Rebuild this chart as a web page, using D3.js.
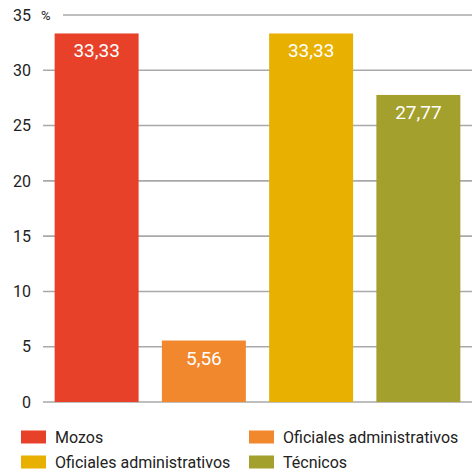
<!DOCTYPE html>
<html>
<head>
<meta charset="utf-8">
<script src="https://cdn.jsdelivr.net/npm/d3@7"></script>
<style>
  body { margin: 0; background: #fff; }
  svg text { font-family: Roboto, "DejaVu Sans", sans-serif; }
</style>
</head>
<body>
<svg id="chart" width="472" height="475"></svg>
<script>
// Data
const categories = ["Mozos", "Oficiales administrativos", "Oficiales administrativos ", "Técnicos"];
const legendLabels = ["Mozos", "Oficiales administrativos", "Oficiales administrativos", "Técnicos"];
const values = [33.33, 5.56, 33.33, 27.77];
const valueLabels = ["33,33", "5,56", "33,33", "27,77"];
const colors = ["#e8412a", "#f2882e", "#e8b000", "#a3a02e"];
const yTicks = [0, 5, 10, 15, 20, 25, 30, 35];

const svg = d3.select("#chart");

// scales
const x = d3.scaleBand()
  .domain(categories)
  .range([43, 472])
  .paddingInner(0.217)
  .paddingOuter(0.1085);

const y = d3.scaleLinear().domain([0, 35]).range([402, 15]);

// grid lines (the top one leaves room for the % sign)
svg.append("g")
  .selectAll("line")
  .data(yTicks)
  .enter()
  .append("line")
  .attr("x1", d => d === 35 ? 63 : 43)
  .attr("x2", 472)
  .attr("y1", d => y(d))
  .attr("y2", d => y(d))
  .attr("stroke", "#a9a9a9")
  .attr("stroke-width", 1.6);

// y tick labels
svg.append("g")
  .selectAll("text")
  .data(yTicks)
  .enter()
  .append("text")
  .attr("x", 31)
  .attr("y", d => y(d))
  .attr("dy", "0.36em")
  .attr("text-anchor", "end")
  .attr("font-size", 16)
  .attr("fill", "#222")
  .text(d => d);

svg.append("text")
  .attr("x", 41)
  .attr("y", y(35) + 5)
  .attr("font-size", 13)
  .attr("font-family", "'DejaVu Sans Condensed', sans-serif")
  .attr("fill", "#222")
  .text("%");

// bars
const bars = svg.append("g")
  .selectAll("g")
  .data(values)
  .enter()
  .append("g");

bars.append("rect")
  .attr("x", (d, i) => x(categories[i]))
  .attr("y", d => y(d))
  .attr("width", x.bandwidth())
  .attr("height", d => y(0) - y(d))
  .attr("fill", (d, i) => colors[i]);

bars.append("text")
  .attr("x", (d, i) => x(categories[i]) + x.bandwidth() / 2)
  .attr("y", d => y(d) + 24)
  .attr("text-anchor", "middle")
  .attr("font-size", 19)
  .attr("fill", "#fff")
  .text((d, i) => valueLabels[i]);

// legend, two columns
const legendPos = [[21, 437], [249, 437], [21, 462], [249, 462]];
const legend = svg.append("g")
  .selectAll("g")
  .data(legendLabels)
  .enter()
  .append("g")
  .attr("transform", (d, i) => "translate(" + legendPos[i][0] + "," + legendPos[i][1] + ")");

legend.append("rect")
  .attr("x", 0)
  .attr("y", -6.5)
  .attr("width", 25)
  .attr("height", 13)
  .attr("fill", (d, i) => colors[i]);

legend.append("text")
  .attr("x", 34)
  .attr("y", 0)
  .attr("dy", "0.35em")
  .attr("font-size", 16)
  .attr("font-family", "'DejaVu Sans Condensed', 'Liberation Sans Narrow', sans-serif")
  .attr("fill", "#222")
  .text(d => d);
</script>
</body>
</html>
